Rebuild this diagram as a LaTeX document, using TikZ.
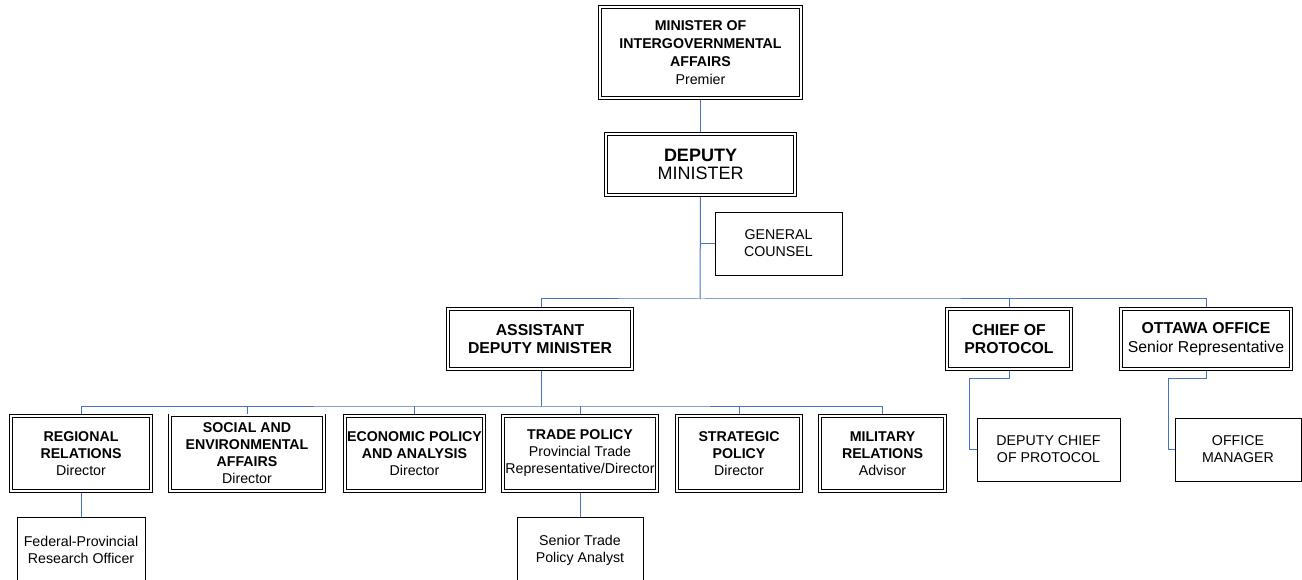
\documentclass[tikz,border=0pt]{standalone}
\usepackage{fontspec}
\setmainfont{Liberation Sans}
\usetikzlibrary{backgrounds}
\begin{document}
\begin{tikzpicture}[x=1pt,y=-1pt,
  conn/.style={draw={rgb,255:red,68;green,114;blue,196}, line width=1pt},
  dbox/.style 2 args={draw, double, double distance=2pt, line width=0.8pt, fill=white,
     align=center, inner sep=0pt, minimum width=#1-3.6, minimum height=#2-3.6},
  sbox/.style 2 args={draw, line width=0.9pt, fill=white, align=center, inner sep=0pt,
     minimum width=#1, minimum height=#2},
  fa/.style={font=\fontsize{14.2}{18}\selectfont},
  fb/.style={font=\fontsize{14.2}{17}\selectfont},
  fc/.style={font=\fontsize{15.8}{18.5}\selectfont},
  fd/.style={font=\fontsize{18}{18.5}\selectfont}]
\clip (0,0) rectangle (1302,580);
\useasboundingbox (0,0) rectangle (1302,580);
% top
\node[dbox={205}{95}, fa] (min) at (700.5,52.5) {\textbf{MINISTER OF}\\\textbf{INTERGOVERNMENTAL}\\\textbf{AFFAIRS}\\Premier};
\node[dbox={193}{65}, fd] (dep) at (700.5,164.5) {\textbf{DEPUTY}\\MINISTER};
\node[sbox={127}{63}, fb] (gc) at (778.5,243.5) {GENERAL\\COUNSEL};
% level 2
\node[dbox={188}{64}, fc] (adm) at (540,339) {\textbf{ASSISTANT}\\\textbf{DEPUTY MINISTER}};
\node[dbox={128}{64}, fc] (chief) at (1009,339) {\textbf{CHIEF OF}\\\textbf{PROTOCOL}};
\node[dbox={174}{64}, fc] (ott) at (1206,339) {\textbf{OTTAWA OFFICE}\\Senior Representative};
\node[sbox={143}{63}, fb] (dc) at (1048.5,449.5) {DEPUTY CHIEF\\OF PROTOCOL};
\node[sbox={126}{63}, fb] (om) at (1238,449.5) {OFFICE\\MANAGER};
% level 3
\node[dbox={144}{79}, fb] (reg) at (81,453.5) {\textbf{REGIONAL}\\\textbf{RELATIONS}\\Director};
\node[dbox={158}{79}, fb] (soc) at (247,453) {\textbf{SOCIAL AND}\\\textbf{ENVIRONMENTAL}\\\textbf{AFFAIRS}\\Director};
\node[dbox={143}{79}, fb] (eco) at (414.5,453.5) {\textbf{ECONOMIC POLICY}\\\textbf{AND ANALYSIS}\\Director};
\node[dbox={158}{79}, fb] (trade) at (580,453.5) {\textbf{TRADE POLICY}\\Provincial Trade\\Representative/Director};
\node[dbox={128}{79}, fb] (strat) at (739,453.5) {\textbf{STRATEGIC}\\\textbf{POLICY}\\Director};
\node[dbox={129}{79}, fb] (mil) at (882.5,453.5) {\textbf{MILITARY}\\\textbf{RELATIONS}\\Advisor};
% level 4
\node[sbox={128}{66}, fb] (fed) at (81,550) {Federal-Provincial\\Research Officer};
\node[sbox={126}{66}, fb] (sta) at (580,550) {Senior Trade\\Policy Analyst};
\coordinate (bus) at (700,299);
\coordinate (bus2) at (541,406);
\begin{scope}[on background layer]
\fill[white] (0,0) rectangle (1302,580);
\draw[conn] (min.south) -- (dep.north);
\draw[conn] (dep.south) -- (bus);
\draw[conn] (gc.west) -- (gc.west -| bus);
\draw[conn] (adm.north -| bus2) |- (bus) -| (ott.north);
\draw[conn] (chief.north) -- (chief.north |- bus);
\draw[conn] (chief.south) -- ++(0,9) -- ++(-40,0) |- (dc.west);
\draw[conn] (ott.south) -- ++(0,9) -- ++(-38,0) |- (om.west);
\draw[conn] (adm.south -| bus2) -- (bus2);
\draw[conn] (reg.north) |- (bus2) -| (mil.north);
\draw[conn] (soc.north) -- (soc.north |- bus2);
\draw[conn] (eco.north) -- (eco.north |- bus2);
\draw[conn] (trade.north) -- (trade.north |- bus2);
\draw[conn] (strat.north) -- (strat.north |- bus2);
\draw[conn] (reg.south) -- (fed.north);
\draw[conn] (trade.south) -- (sta.north);
\end{scope}
\end{tikzpicture}
\end{document}
